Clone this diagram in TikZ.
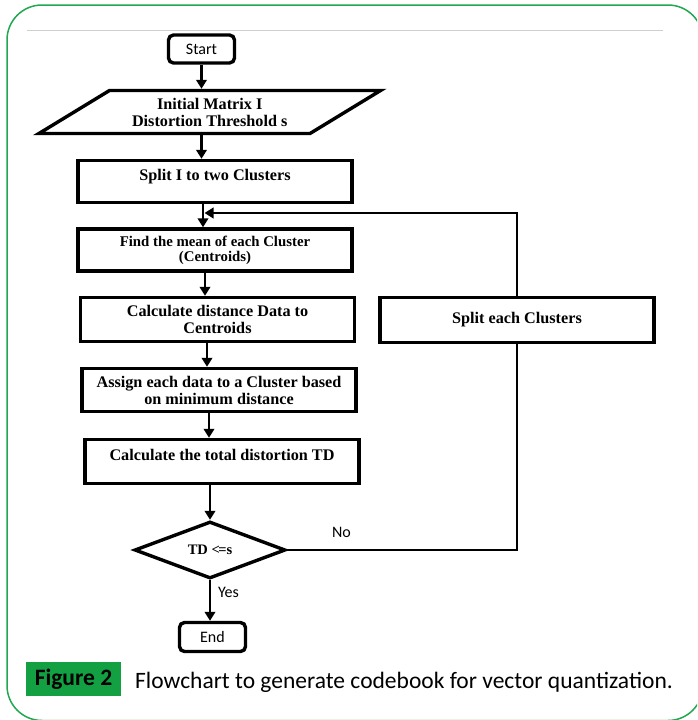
\documentclass[tikz,border=0pt]{standalone}
\usepackage{fontspec}
\setmainfont{Carlito}
\newfontfamily\boxfont{Liberation Serif}
\usetikzlibrary{arrows.meta,shapes.geometric}
\definecolor{framegreen}{HTML}{1FA84F}
\definecolor{labelgreen}{HTML}{12A042}
\definecolor{rulegray}{HTML}{CFCFCF}
\tikzset{
  procbox/.style={draw=black,line width=3.4pt,fill=white,align=center,inner sep=2pt,minimum width=274pt,minimum height=42pt,font={\boxfont\bfseries\fontsize{16.2}{17}\selectfont}},
  termbox/.style={draw=black,line width=3.4pt,rounded corners=5pt,fill=white,inner sep=0pt,minimum width=66pt,minimum height=28pt,font={\fontsize{16}{18}\selectfont}},
  iobox/.style={procbox,trapezium,trapezium left angle=30,trapezium right angle=150,trapezium stretches=true,minimum width=342pt,minimum height=43pt},
  decisionbox/.style={draw=black,line width=3.4pt,diamond,fill=white,inner sep=0pt,minimum width=151pt,minimum height=57pt,font={\boxfont\bfseries\fontsize{14.5}{15}\selectfont}},
  flow/.style={-{Triangle[length=9pt,width=10.5pt]},line width=2.8pt,draw=black},
  loopline/.style={line width=2.8pt,draw=black},
  edgelabel/.style={font={\fontsize{16}{18}\selectfont},inner sep=1pt}
}
\begin{document}
\begin{tikzpicture}[x=1pt,y=-1pt]
  \useasboundingbox (0,0) rectangle (697,720);
  % frame and rule
  \begin{scope}
    \clip (0,0) rectangle (697,720);
    \draw[framegreen,line width=1.5pt,rounded corners=35pt] (7,5) rectangle (703,720.5);
  \end{scope}
  \draw[rulegray,line width=1pt] (27,30) -- (663,30);
  % main column
  \node[termbox] (start) at (201.5,49) {Start};
  \node[iobox] (input) at (209.75,112) {Initial Matrix I\\Distortion Threshold s};
  \node[procbox,text depth=12.5pt] (split1) at (215,181.5) {Split I to two Clusters};
  \node[procbox,font={\boxfont\bfseries\fontsize{14.8}{15}\selectfont}] (mean) at (215,250) {Find the mean of each Cluster\\(Centroids)};
  \node[procbox,minimum height=44pt] (dist) at (217.5,319.5) {Calculate distance Data to\\Centroids};
  \node[procbox,minimum height=43pt] (assign) at (219,390) {Assign each data to a Cluster based\\on minimum distance};
  \node[procbox,minimum height=44pt,text depth=13pt] (total) at (222,461.5) {Calculate the total distortion TD};
  \node[decisionbox] (test) at (210,550) {TD <\kern-1.5pt=s};
  \node[termbox,minimum width=66pt,minimum height=29pt] (stop) at (212.5,637) {End};
  \node[procbox,minimum height=45pt] (split2) at (517,320) {Split each Clusters};
  \coordinate (rejoin) at (204.5,213);
  % arrows
  \draw[flow] (start.south) -- (start.south |- input.north);
  \draw[flow] (start.south |- input.south) -- (start.south |- split1.north);
  \draw[flow] ([xshift=-12pt]split1.south) -- ([xshift=-12pt]split1.south |- mean.north);
  \draw[flow] ([xshift=-10pt]mean.south) -- ([xshift=-10pt]mean.south |- dist.north);
  \draw[flow] ([xshift=-10.5pt]dist.south) -- ([xshift=-10.5pt]dist.south |- assign.north);
  \draw[flow] ([xshift=-10pt]assign.south) -- ([xshift=-10pt]assign.south |- total.north);
  \draw[flow] (test.north |- total.south) -- (test.north);
  \draw[flow] (test.south) -- (test.south |- stop.north);
  \draw[loopline] (test.east) -| (split2.south);
  \draw[flow] (split2.north) |- (rejoin);
  \node[edgelabel] (nolabel) at (341.5,532) {No};
  \node[edgelabel] (yeslabel) at (228.5,592) {Yes};
  % caption
  \node[fill=labelgreen,minimum width=95pt,minimum height=34pt,inner sep=0pt,font={\bfseries\fontsize{23.5}{26}\selectfont}] (figtag) at (73.5,679) {Figure 2};
  \node[anchor=base west,inner sep=0pt,font={\fontsize{23.5}{26}\selectfont}] (caption) at (135,688) {Flowchart to generate codebook for vector quantization.};
\end{tikzpicture}
\end{document}
